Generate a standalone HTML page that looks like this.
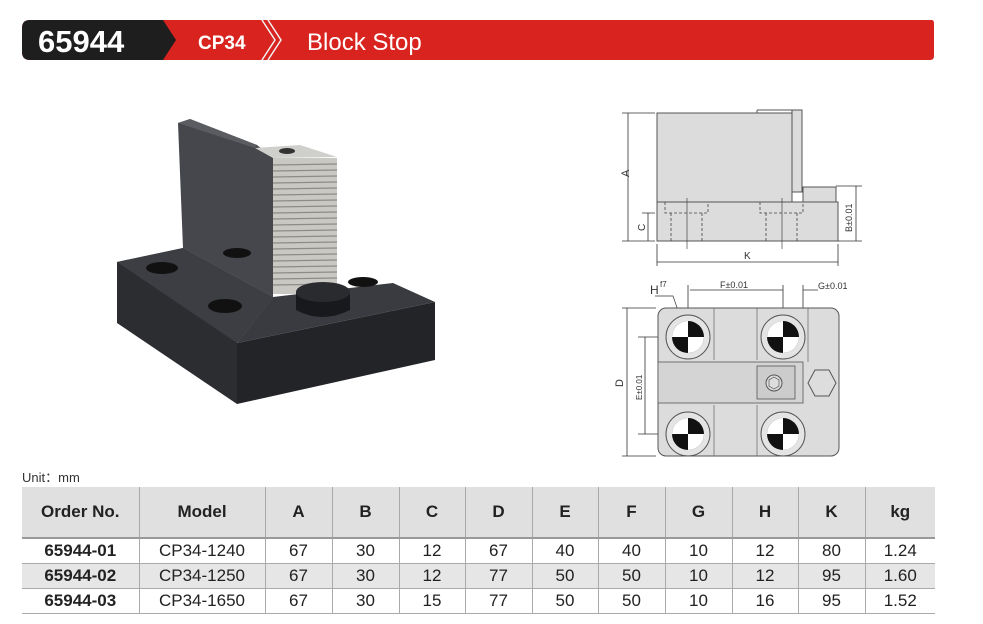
<!DOCTYPE html>
<html><head><meta charset="utf-8"><style>
body{margin:0;width:983px;height:624px;background:#fff;font-family:"Liberation Sans",sans-serif;position:relative;overflow:hidden}
.abs{position:absolute}
table{position:absolute;left:22px;top:487px;border-collapse:collapse;width:913px;font-size:17px;color:#222}
td{border-left:1px solid #aaa;text-align:center;padding:0;height:24px}
td:first-child{border-left:none;font-weight:bold}
tr.h td{background:#e0e0e0;font-weight:bold;height:50px;border-bottom:2px solid #999}
tr.g td{background:#e6e6e6}
tr.r td{border-bottom:1px solid #aaa}
</style></head><body>
<svg class="abs" style="left:0;top:0" width="983" height="470">
<path d="M30 20 H932 Q934 20 934 24 V56 Q934 60 930 60 H30 Q22 60 22 52 V28 Q22 20 30 20Z" fill="#d9231f"/>
<path d="M30 20 H163 L176 40 L163 60 H30 Q22 60 22 52 V28 Q22 20 30 20Z" fill="#1e1e1e"/>
<path d="M262 20 L275 40 L262 60 M268 20 L281 40 L268 60" stroke="#f2f2f2" stroke-width="1.5" fill="none"/>
<text x="38" y="52" font-size="31" font-weight="bold" fill="#fff" font-family="Liberation Sans">65944</text>
<text x="198" y="49" font-size="19" font-weight="bold" fill="#fff" font-family="Liberation Sans">CP34</text>
<text x="307" y="50" font-size="24" fill="#fff" font-family="Liberation Sans">Block Stop</text>
<!-- photo -->
<polygon points="117,262 183,248 273,297 237,343 237,404 117,323" fill="#2c2d31"/>
<polygon points="237,343 435,302 435,360 237,404" fill="#232428"/>
<polygon points="117,262 183,248 273,297 237,343" fill="#3d3e43"/>
<polygon points="273,297 393,283 435,302 237,343" fill="#3a3b40"/>
<polygon points="178,123 190,119 257,145 273,158 273,297 183,248" fill="#45474d"/>
<polygon points="178,123 190,119 257,145 255,148" fill="#5a5c62"/>
<polygon points="255,148 300,145 337,157 273,158" fill="#cfcfcc"/>
<rect x="273" y="158" width="64" height="136" fill="#c9c8c3"/>
<g stroke="#8d8b86" stroke-width="1.2">
<line x1="273" y1="165" x2="337" y2="164"/><line x1="273" y1="171" x2="337" y2="170"/><line x1="273" y1="177" x2="337" y2="176"/><line x1="273" y1="183" x2="337" y2="182"/><line x1="273" y1="189" x2="337" y2="188"/><line x1="273" y1="195" x2="337" y2="194"/><line x1="273" y1="201" x2="337" y2="200"/><line x1="273" y1="207" x2="337" y2="206"/><line x1="273" y1="213" x2="337" y2="212"/><line x1="273" y1="219" x2="337" y2="218"/><line x1="273" y1="225" x2="337" y2="224"/><line x1="273" y1="231" x2="337" y2="230"/><line x1="273" y1="237" x2="337" y2="236"/><line x1="273" y1="243" x2="337" y2="242"/><line x1="273" y1="249" x2="337" y2="248"/><line x1="273" y1="255" x2="337" y2="254"/><line x1="273" y1="261" x2="337" y2="260"/><line x1="273" y1="267" x2="337" y2="266"/><line x1="273" y1="273" x2="337" y2="272"/><line x1="273" y1="279" x2="337" y2="278"/><line x1="273" y1="285" x2="337" y2="284"/>
</g>
<ellipse cx="287" cy="151" rx="8" ry="3" fill="#333"/>
<ellipse cx="162" cy="268" rx="16" ry="6" fill="#111"/>
<ellipse cx="237" cy="253" rx="14" ry="5" fill="#111"/>
<ellipse cx="225" cy="306" rx="17" ry="7" fill="#111"/>
<ellipse cx="363" cy="282" rx="15" ry="5" fill="#111"/>
<path d="M296 292 Q320 278 350 292 V310 Q322 324 296 310Z" fill="#18191c"/>
<ellipse cx="323" cy="292" rx="27" ry="10" fill="#2a2b2f"/>
<!-- side view -->
<g fill="#dcdcdc" stroke="#555" stroke-width="1">
<rect x="657" y="113" width="135" height="89"/>
<rect x="792" y="110" width="10" height="82"/>
<rect x="657" y="202" width="181" height="39"/>
<rect x="803" y="187" width="33" height="15"/>
</g>
<line x1="757" y1="110" x2="792" y2="110" stroke="#555"/>
<line x1="757" y1="110" x2="757" y2="113" stroke="#555"/>
<line x1="802" y1="112" x2="802" y2="190" stroke="#555" stroke-dasharray="1,1"/>
<g stroke="#444" stroke-width="0.8" fill="none" stroke-dasharray="3,2">
<path d="M665 202 V213 H708 V202 M671 213 V241 M702 213 V241"/>
<path d="M760 202 V213 H803 V202 M766 213 V241 M797 213 V241"/>
</g>
<g stroke="#444" stroke-width="0.7"><line x1="687" y1="198" x2="687" y2="249"/><line x1="782" y1="198" x2="782" y2="249"/></g>
<g stroke="#333" stroke-width="0.8" fill="none">
<path d="M622 113 H655 M622 241 H655 M628 113 V241 M642 213 H655 M648 213 V241 M836 186 H862 M838 241 H862 M856 186 V241 M657 244 V266 M838 244 V266 M657 262 H838"/>
<path d="M690 290 H783 M688 285 V320 M783 285 V320 M803 285 V320 M803 290 H818 M770 290 H783 M622 308 H656 M622 456 H656 M627 308 V456 M638 337 H688 M638 434 H688 M645 337 V434"/>
</g>
<text x="629" y="177" font-size="11" fill="#333" transform="rotate(-90 629 177)">A</text>
<text x="645" y="231" font-size="10" fill="#333" transform="rotate(-90 645 231)">C</text>
<text x="852" y="232" font-size="9" fill="#333" transform="rotate(-90 852 232)">B±0.01</text>
<text x="744" y="259" font-size="10" fill="#333">K</text>
<text x="720" y="288" font-size="9" fill="#333">F±0.01</text>
<text x="818" y="289" font-size="9" fill="#333">G±0.01</text>
<text x="650" y="294" font-size="12" fill="#333">H</text><text x="660" y="287" font-size="8" fill="#333">f7</text>
<path d="M655 296 H673 L682 322" stroke="#333" fill="none" stroke-width="0.7"/>
<text x="623" y="387" font-size="11" fill="#333" transform="rotate(-90 623 387)">D</text>
<text x="642" y="400" font-size="8" fill="#333" transform="rotate(-90 642 400)">E±0.01</text>
<!-- top view -->
<rect x="658" y="308" width="181" height="148" rx="8" fill="#dcdcdc" stroke="#555"/>
<rect x="658" y="362" width="145" height="41" fill="#d4d4d4" stroke="#555" stroke-width="0.8"/>
<path d="M714 308 V360 M757 308 V360 M808 308 V362 M714 405 V456 M757 405 V456" stroke="#666" stroke-width="0.7"/>
<rect x="757" y="366" width="38" height="33" fill="#ccc" stroke="#555" stroke-width="0.8"/>
<circle cx="774" cy="383" r="8" fill="#ddd" stroke="#555"/>
<polygon points="774,377 779,380 779,386 774,389 769,386 769,380" fill="none" stroke="#555" stroke-width="0.7"/>
<polygon points="815,370 829,370 836,383 829,396 815,396 808,383" fill="#ddd" stroke="#555"/>
<g>
<circle cx="688" cy="337" r="22" fill="#e4e4e4" stroke="#555"/><circle cx="688" cy="337" r="16" fill="#111"/><path d="M688 321 A16 16 0 0 0 672 337 H704 A16 16 0 0 1 688 353Z" fill="#fff"/>
<circle cx="783" cy="337" r="22" fill="#e4e4e4" stroke="#555"/><circle cx="783" cy="337" r="16" fill="#111"/><path d="M783 321 A16 16 0 0 0 767 337 H799 A16 16 0 0 1 783 353Z" fill="#fff"/>
<circle cx="688" cy="434" r="22" fill="#e4e4e4" stroke="#555"/><circle cx="688" cy="434" r="16" fill="#111"/><path d="M688 418 A16 16 0 0 0 672 434 H704 A16 16 0 0 1 688 450Z" fill="#fff"/>
<circle cx="783" cy="434" r="22" fill="#e4e4e4" stroke="#555"/><circle cx="783" cy="434" r="16" fill="#111"/><path d="M783 418 A16 16 0 0 0 767 434 H799 A16 16 0 0 1 783 450Z" fill="#fff"/>
</g>
</svg>
<div class="abs" style="left:22px;top:467px;font-size:13px;color:#333">Unit：mm</div>
<table>
<colgroup><col style="width:117px"><col style="width:126px"><col style="width:67px"><col style="width:67px"><col style="width:66px"><col style="width:67px"><col style="width:66px"><col style="width:67px"><col style="width:67px"><col style="width:66px"><col style="width:67px"><col></colgroup>
<tr class="h"><td>Order No.</td><td>Model</td><td>A</td><td>B</td><td>C</td><td>D</td><td>E</td><td>F</td><td>G</td><td>H</td><td>K</td><td>kg</td></tr>
<tr class="r"><td>65944-01</td><td>CP34-1240</td><td>67</td><td>30</td><td>12</td><td>67</td><td>40</td><td>40</td><td>10</td><td>12</td><td>80</td><td>1.24</td></tr>
<tr class="r g"><td>65944-02</td><td>CP34-1250</td><td>67</td><td>30</td><td>12</td><td>77</td><td>50</td><td>50</td><td>10</td><td>12</td><td>95</td><td>1.60</td></tr>
<tr class="r"><td>65944-03</td><td>CP34-1650</td><td>67</td><td>30</td><td>15</td><td>77</td><td>50</td><td>50</td><td>10</td><td>16</td><td>95</td><td>1.52</td></tr>
</table>
</body></html>
